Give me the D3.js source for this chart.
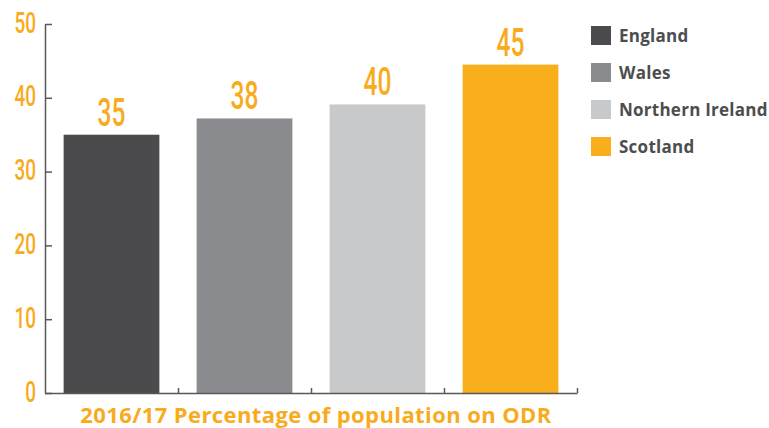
<!DOCTYPE html>
<html>
<head>
<meta charset="utf-8">
<script src="https://cdn.jsdelivr.net/npm/d3@7"></script>
<style>
  html, body { margin: 0; padding: 0; background: #ffffff; }
  svg { display: block; }
</style>
</head>
<body>
<div id="chart"></div>
<script>
const categories = ['England', 'Wales', 'Northern Ireland', 'Scotland'];
// bar heights as drawn in the picture
const barValues = [35, 37.2, 39.1, 44.5];
// numbers printed above the bars
const valueLabels = ['35', '38', '40', '45'];
const barColors = ['#4b4b4d', '#8a8b8e', '#c8c9cb', '#f9af1b'];
const yTicks = [0, 10, 20, 30, 40, 50];
const axisTitle = '2016/17 Percentage of population on ODR';

const orange = '#f8ab1c';
const axisColor = '#58585a';
const squeeze = 0.63; // condensed look for the numbers

const totalWidth = 769;
const totalHeight = 428;
const plot = { left: 45, right: 577, top: 24, bottom: 393 };

const svg = d3
  .select('#chart')
  .append('svg')
  .attr('width', totalWidth)
  .attr('height', totalHeight);

const xScale = d3
  .scaleBand()
  .domain(categories)
  .range([plot.left, plot.right])
  .paddingInner(0.28)
  .paddingOuter(0.14);

const yScale = d3.scaleLinear().domain([0, 50]).range([plot.bottom, plot.top]);

// Render bars
svg
  .selectAll('.bar')
  .data(categories)
  .join('rect')
  .attr('class', 'bar')
  .attr('x', (d) => xScale(d))
  .attr('y', (d, i) => yScale(barValues[i]))
  .attr('width', xScale.bandwidth())
  .attr('height', (d, i) => plot.bottom - yScale(barValues[i]))
  .attr('fill', (d, i) => barColors[i]);

// Value labels above bars
svg
  .selectAll('.value-label')
  .data(categories)
  .join('text')
  .attr('class', 'value-label')
  .attr('text-anchor', 'middle')
  .attr(
    'transform',
    (d, i) =>
      `translate(${xScale(d) + xScale.bandwidth() / 2}, ${yScale(barValues[i]) - 9}) scale(${squeeze},1)`
  )
  .attr('font-family', 'Roboto, sans-serif')
  .attr('font-weight', 500)
  .attr('font-size', 39)
  .attr('fill', orange)
  .text((d, i) => valueLabels[i]);

// Render y axis
svg
  .append('g')
  .attr('transform', `translate(${plot.left}, 0)`)
  .call(d3.axisLeft(yScale).tickValues(yTicks).tickSize(-7).tickSizeOuter(0))
  .call((g) => g.selectAll('path, line').attr('stroke', axisColor).attr('stroke-width', 1.5))
  .call((g) =>
    g
      .selectAll('text')
      .attr('x', null)
      .attr('dy', null)
      .attr('transform', `translate(-9, 8) scale(${squeeze},1)`)
      .attr('font-family', 'Roboto, sans-serif')
      .attr('font-weight', 500)
      .attr('font-size', 30)
      .attr('fill', orange)
  );

// Render x axis, ticks sit between the bars
const boundaryScale = d3
  .scaleLinear()
  .domain([0, categories.length])
  .range([plot.left, plot.right]);

svg
  .append('g')
  .attr('transform', `translate(0, ${plot.bottom})`)
  .call(
    d3
      .axisBottom(boundaryScale)
      .tickValues(d3.range(1, categories.length + 1))
      .tickSize(-5)
      .tickSizeOuter(0)
      .tickFormat('')
  )
  .call((g) => g.selectAll('path, line').attr('stroke', axisColor).attr('stroke-width', 1.5));

// Axis title
svg
  .append('text')
  .attr('text-anchor', 'middle')
  .attr('x', 316)
  .attr('y', 423)
  .attr('font-family', '"Open Sans", sans-serif')
  .attr('font-weight', 700)
  .attr('font-size', 22)
  .attr('letter-spacing', 0.4)
  .attr('fill', orange)
  .text(axisTitle);

// Legend
const legend = svg
  .append('g')
  .attr('transform', 'translate(591, 26)')
  .selectAll('g')
  .data(categories)
  .join('g')
  .attr('transform', (d, i) => `translate(0, ${i * 37})`);

legend
  .append('rect')
  .attr('width', 20)
  .attr('height', 19)
  .attr('fill', (d, i) => barColors[i]);

legend
  .append('text')
  .attr('x', 28)
  .attr('y', 16)
  .attr('font-family', '"Open Sans", sans-serif')
  .attr('font-weight', 700)
  .attr('font-size', 17)
  .attr('letter-spacing', 0.25)
  .attr('fill', '#4d4d4f')
  .text((d) => d);
</script>
</body>
</html>
